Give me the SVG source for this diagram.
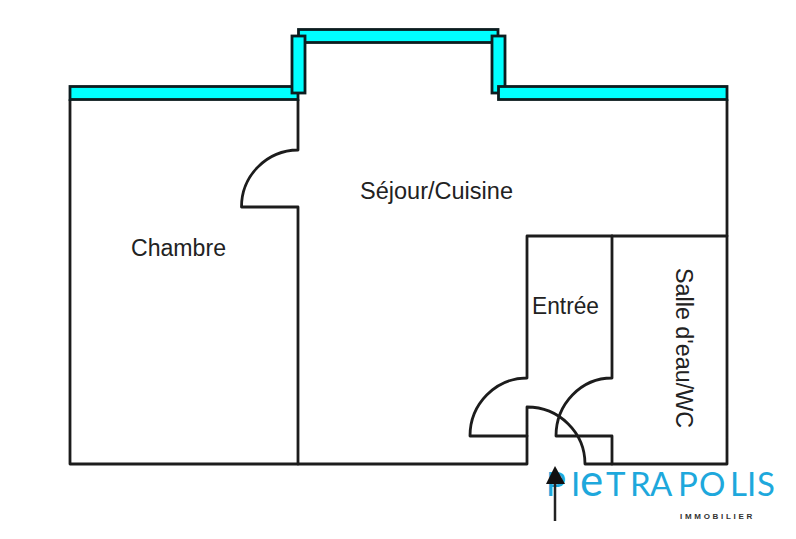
<svg xmlns="http://www.w3.org/2000/svg" width="796" height="539" viewBox="0 0 796 539">
<style>
.wall{fill:none;stroke:#1c1c1c;stroke-width:2.800;stroke-linejoin:round;stroke-linecap:round}
.win{fill:#00ffff;stroke:#0c1c1f;stroke-width:2.800}
.lab{font-family:"Liberation Sans",Arial,sans-serif;font-size:23px;fill:#222}
.logo{font-family:"Lato","Liberation Sans",sans-serif;font-size:33px;font-weight:400;fill:#1ea8dc}
.sub{font-family:"Liberation Sans",Arial,sans-serif;font-size:8px;font-weight:700;fill:#333;letter-spacing:2.700px}
</style>
<rect width="796" height="539" fill="#fff"/>
<g id="connectors">
<path class="wall" d="M70 100V464H527V436H470A57 58 0 0 1 527 378V236H727"/>
<path class="wall" d="M298 100V150A57 57 0 0 0 241.500 207H298V464"/>
<path class="wall" d="M727 100V464H585A58 57 0 0 0 527 407V436"/>
<path class="wall" d="M612 236V378A56 58 0 0 0 556 436H612V464"/>
</g>
<g id="windows">
<rect class="win" x="298.500" y="29.500" width="199.500" height="13"/>
<rect class="win" x="70" y="86.500" width="228" height="13"/>
<rect class="win" x="292" y="36" width="13" height="57"/>
<rect class="win" x="492" y="36" width="13" height="57"/>
<rect class="win" x="498.500" y="86.500" width="228.500" height="13"/>
</g>
<g id="chambre"><text class="lab" x="131" y="256" textLength="95" lengthAdjust="spacingAndGlyphs">Chambre</text></g>
<g id="sejour"><text class="lab" x="360" y="199" textLength="153" lengthAdjust="spacingAndGlyphs">Séjour/Cuisine</text></g>
<g id="entree"><text class="lab" x="532" y="314" textLength="67" lengthAdjust="spacingAndGlyphs">Entrée</text></g>
<g id="salle"><text class="lab" transform="translate(676 268) rotate(90)" textLength="160" lengthAdjust="spacingAndGlyphs">Salle d'eau/WC</text></g>
<g id="logo">
<text class="logo" y="496"><tspan x="546">P</tspan><tspan x="571">I</tspan><tspan x="580" font-size="44">e</tspan><tspan x="606">T</tspan><tspan x="630">R</tspan><tspan x="650">A</tspan><tspan x="678">P</tspan><tspan x="699">O</tspan><tspan x="730">L</tspan><tspan x="747">I</tspan><tspan x="757">S</tspan></text>
<text class="sub" x="680" y="519">IMMOBILIER</text>
</g>
<g id="entry-arrow">
<path d="M555 484V521" fill="none" stroke="#222" stroke-width="2.500"/>
<path d="M555 466L546 484H565Z" fill="#111"/>
</g>
</svg>
